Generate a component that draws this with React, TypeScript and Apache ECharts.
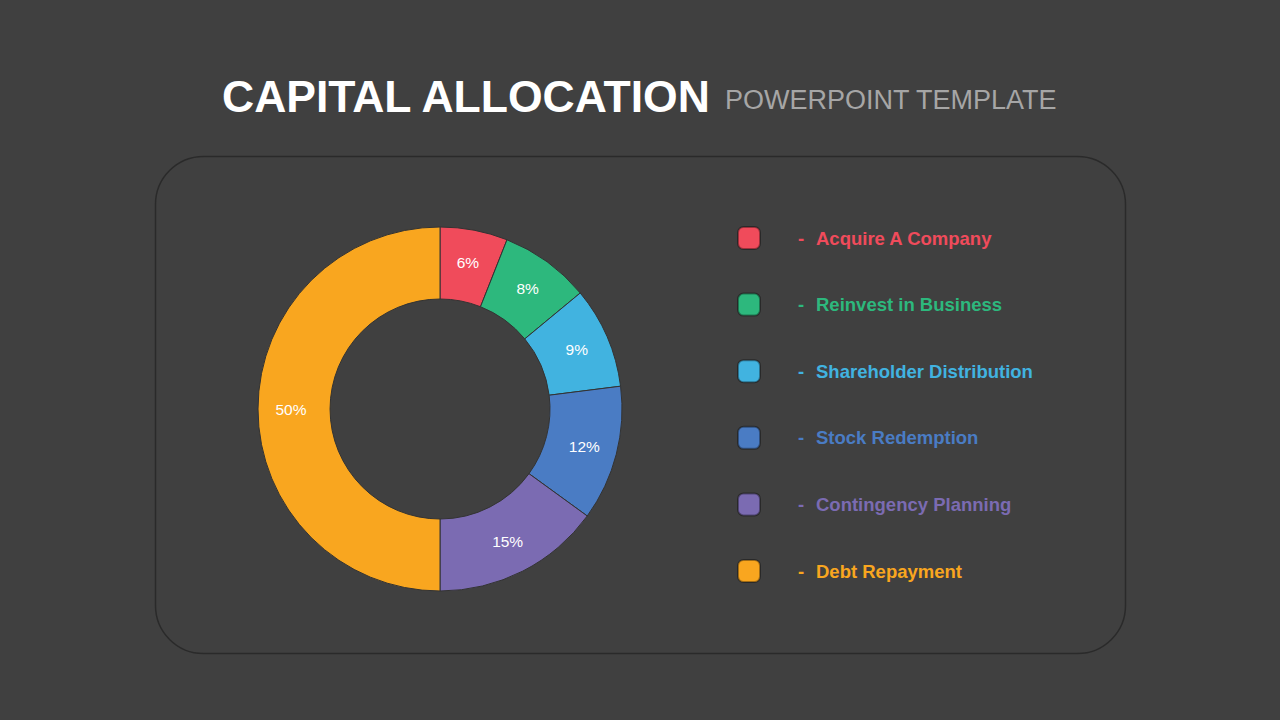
import React, { useEffect, useRef } from "react";
import * as echarts from "echarts";

const categories = [
  "Acquire A Company",
  "Reinvest in Business",
  "Shareholder Distribution",
  "Stock Redemption",
  "Contingency Planning",
  "Debt Repayment",
];
const values = [6, 8, 9, 12, 15, 50];
const colors = ["#F04B5B", "#2DB87D", "#41B3E0", "#4A7CC4", "#7B6BB2", "#F9A61F"];
const titleMain = "CAPITAL ALLOCATION";
const titleSub = "POWERPOINT TEMPLATE";

export default function App() {
  const ref = useRef<HTMLDivElement>(null);
  useEffect(() => {
    if (!ref.current) return;
    const chart = echarts.init(ref.current, null, { renderer: "svg" });
    const rich: Record<string, any> = { pad: { width: 33 } };
    colors.forEach((c, i) => {
      rich["d" + i] = { color: c, width: 18, fontSize: 18.5, fontWeight: "bold", fontFamily: "Liberation Sans" };
      rich["n" + i] = { color: c, fontSize: 18.5, fontWeight: "bold", fontFamily: "Liberation Sans" };
    });
    chart.setOption({
      animation: false,
      backgroundColor: "#404040",
      graphic: [
        {
          type: "rect",
          shape: { x: 155.5, y: 156.5, width: 970, height: 497, r: 48 },
          style: { fill: "none", stroke: "#2a2a2a", lineWidth: 1.5 },
          z: -1,
        },
        {
          type: "text",
          x: 222,
          y: 96,
          style: {
            text: titleMain,
            fill: "#ffffff",
            font: "bold 44.5px 'Liberation Sans'",
            verticalAlign: "middle",
            align: "left",
          },
        },
        {
          type: "text",
          x: 725,
          y: 100,
          style: {
            text: titleSub,
            fill: "#a6a6a6",
            font: "27px 'Liberation Sans'",
            verticalAlign: "middle",
            align: "left",
          },
        },
      ],
      legend: {
        orient: "vertical",
        left: 737,
        top: 226,
        padding: 0,
        itemWidth: 22,
        itemHeight: 22,
        itemGap: 42.6,
        icon: "roundRect",
        itemStyle: { borderColor: "rgba(0,0,0,0.35)", borderWidth: 2 },
        formatter: (name: string) => {
          const i = categories.indexOf(name);
          return `{pad|}{d${i}|-}{n${i}|${name}}`;
        },
        textStyle: { rich },
        data: categories,
      },
      series: [
        {
          type: "pie",
          center: [440, 409],
          radius: [110, 182],
          startAngle: 90,
          clockwise: true,
          avoidLabelOverlap: false,
          itemStyle: { borderColor: "#333333", borderWidth: 1 },
          label: {
            show: true,
            position: "inside",
            formatter: "{c}%",
            color: "#ffffff",
            fontSize: 15.5,
            fontFamily: "Liberation Sans",
          },
          labelLine: { show: false },
          emphasis: { disabled: true },
          data: categories.map((n, i) => ({
            name: n,
            value: values[i],
            itemStyle: { color: colors[i] },
          })),
        },
      ],
    });
    return () => chart.dispose();
  }, []);
  return (
    <div
      ref={ref}
      style={{ position: "fixed", left: 0, top: 0, width: 1280, height: 720 }}
    />
  );
}
